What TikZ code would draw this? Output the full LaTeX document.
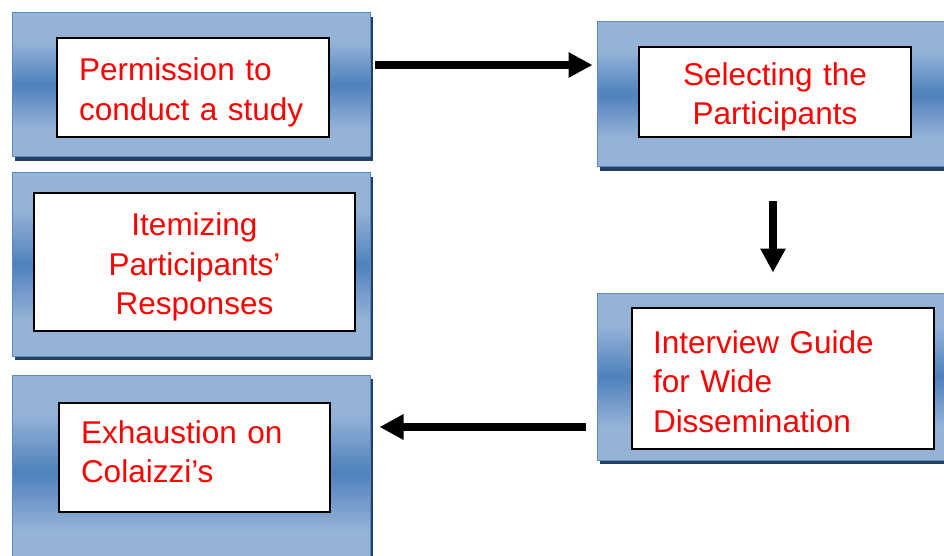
\documentclass[tikz,border=0pt]{standalone}
\usepackage{fontspec}
\setmainfont{Liberation Sans}
\usepackage{xcolor}
\usepackage{tikz}
\usetikzlibrary{arrows.meta,shadows,positioning,calc}

\definecolor{bandlight}{HTML}{95B3D7}
\definecolor{banddark}{HTML}{4F81BD}
\definecolor{bandedge}{HTML}{5A89C6}
\definecolor{bandshadow}{HTML}{243F60}

\pgfdeclareverticalshading{bandshade}{100bp}{color(0bp)=(bandlight); color(25bp)=(bandlight); color(35bp)=(bandlight); color(50bp)=(banddark); color(65bp)=(bandlight); color(75bp)=(bandlight); color(100bp)=(bandlight)}

\tikzset{
    stagebox/.style={rectangle, shade, shading=bandshade, draw=bandedge, line width=1pt,
        minimum width=358pt, inner sep=0pt,
        drop shadow={shadow xshift=3pt, shadow yshift=-4pt, fill=bandshadow, opacity=1}},
    textbox/.style={rectangle, draw=black, line width=1.7pt, fill=white, text=red,
        font=\fontsize{31.5}{39.5}\selectfont, inner ysep=0pt},
    flow/.style={line width=8pt, -{Triangle[length=24pt,width=24pt]}}
}

\begin{document}
\begin{tikzpicture}[x=1pt,y=-1pt]
    \useasboundingbox (0,0) rectangle (944,556);
    \clip (0,0) rectangle (944,556);

    % Left column
    \node[stagebox, minimum height=144pt] (perm) at (191,85) {};
    \node[stagebox, minimum height=183pt] (item) at (191,264.5) {};
    \node[stagebox, minimum height=195pt] (exha) at (191,472.5) {};

    % Right column
    \node[stagebox, minimum height=145pt] (sele) at (776,94.5) {};
    \node[stagebox, minimum height=167pt] (intv) at (776,376.5) {};

    % Inner text boxes
    \node[textbox, align=left, text width=228pt, inner xsep=22pt, minimum height=99pt]
        (permtext) at (193,87.5) {\rule{0pt}{33pt}Permission to\\conduct a study};
    \node[textbox, align=center, text width=252pt, inner xsep=10pt, minimum height=90pt]
        (seletext) at (775,92) {\rule{0pt}{33pt}Selecting the\\Participants};
    \node[textbox, align=center, text width=301pt, inner xsep=10pt, minimum height=138pt]
        (itemtext) at (194.5,262) {\rule{0pt}{33pt}Itemizing\\Participants’\\Responses};
    \node[textbox, align=left, text width=260pt, inner xsep=21pt, minimum height=141pt]
        (intvtext) at (783,378.5) {\rule{0pt}{29pt}Interview Guide\\for Wide\\Dissemination};
    \node[textbox, align=left, text width=227pt, inner xsep=22pt, minimum height=109pt]
        (exhatext) at (194.5,457.5) {Exhaustion on\\Colaizzi’s\rule[-12pt]{0pt}{12pt}};

    % Arrows
    \coordinate (flowa) at (375,65);
    \coordinate (flowb) at (773,201);
    \coordinate (flowc) at (586,427);
    \draw[flow, shorten >=4pt] (flowa) -- (flowa -| sele.west);
    \draw[flow, shorten >=20pt] (flowb) -- (flowb |- intv.north);
    \draw[flow, shorten >=9pt] (flowc) -- (flowc -| exha.east);
\end{tikzpicture}
\end{document}
